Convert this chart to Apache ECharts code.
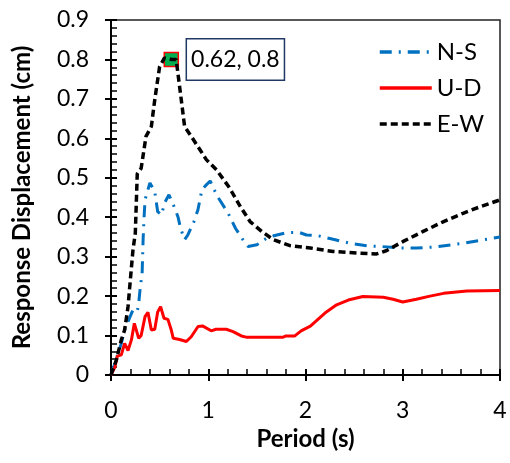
<!DOCTYPE html>
<html>
<head>
<meta charset="utf-8">
<script src="https://cdn.jsdelivr.net/npm/echarts@6/dist/echarts.min.js"></script>
<style>
  html, body { margin: 0; padding: 0; background: #fff; }
  #chart { width: 510px; height: 463px; }
</style>
</head>
<body>
<div id="chart"></div>
<script>
// values
const nsPeriod = [0, 0.04, 0.106, 0.14, 0.19, 0.226, 0.27, 0.285, 0.30, 0.32, 0.33, 0.34, 0.35, 0.40, 0.45, 0.48, 0.52, 0.55, 0.596, 0.655, 0.69, 0.715, 0.757, 0.79, 0.853, 0.894, 0.935, 0.98, 1.02, 1.06, 1.11, 1.205, 1.28, 1.38, 1.41, 1.50, 1.60, 1.675, 1.805, 1.94, 2.01, 2.13, 2.285, 2.46, 2.645, 2.765, 2.97, 3.14, 3.31, 3.62, 3.79, 4.0]
const nsDisp = [0, 0.03, 0.08, 0.114, 0.144, 0.165, 0.161, 0.182, 0.22, 0.258, 0.343, 0.40, 0.444, 0.487, 0.465, 0.414, 0.406, 0.436, 0.457, 0.423, 0.40, 0.372, 0.343, 0.355, 0.389, 0.419, 0.47, 0.482, 0.492, 0.47, 0.447, 0.41, 0.372, 0.334, 0.326, 0.33, 0.347, 0.353, 0.361, 0.361, 0.355, 0.353, 0.344, 0.334, 0.327, 0.326, 0.322, 0.322, 0.324, 0.334, 0.341, 0.35]

const udPeriod = [0, 0.04, 0.065, 0.106, 0.14, 0.175, 0.21, 0.24, 0.285, 0.31, 0.35, 0.38, 0.415, 0.45, 0.48, 0.51, 0.545, 0.585, 0.62, 0.64, 0.705, 0.775, 0.825, 0.895, 0.945, 1.03, 1.08, 1.185, 1.255, 1.34, 1.39, 1.77, 1.80, 1.89, 1.955, 2.05, 2.2, 2.32, 2.44, 2.59, 2.80, 2.90, 3.00, 3.14, 3.28, 3.42, 3.66, 4.0]
const udDisp = [0, 0.02, 0.048, 0.051, 0.08, 0.062, 0.089, 0.131, 0.093, 0.10, 0.148, 0.159, 0.114, 0.116, 0.16, 0.173, 0.144, 0.141, 0.114, 0.093, 0.09, 0.085, 0.097, 0.123, 0.124, 0.112, 0.116, 0.116, 0.11, 0.099, 0.096, 0.096, 0.099, 0.099, 0.112, 0.124, 0.157, 0.178, 0.19, 0.199, 0.197, 0.192, 0.185, 0.192, 0.20, 0.207, 0.213, 0.214]

const ewPeriod = [0, 0.055, 0.106, 0.14, 0.175, 0.19, 0.226, 0.25, 0.27, 0.31, 0.36, 0.415, 0.45, 0.50, 0.55, 0.62, 0.67, 0.705, 0.757, 0.825, 0.915, 0.98, 1.086, 1.22, 1.33, 1.43, 1.55, 1.67, 1.84, 2.05, 2.285, 2.56, 2.73, 2.83, 3.00, 3.21, 3.42, 3.62, 3.79, 4.0]
const ewDisp = [0, 0.038, 0.089, 0.114, 0.173, 0.216, 0.317, 0.36, 0.51, 0.524, 0.605, 0.63, 0.698, 0.782, 0.804, 0.80, 0.80, 0.732, 0.63, 0.605, 0.571, 0.546, 0.52, 0.474, 0.427, 0.389, 0.364, 0.343, 0.328, 0.322, 0.313, 0.309, 0.307, 0.315, 0.338, 0.364, 0.389, 0.41, 0.426, 0.444]

// peak marker
const peakPeriod = 0.62
const peakDisp = 0.8

const FONT = 'Lato'

function pairs(xs, ys) {
  return xs.map((x, i) => [x, ys[i]])
}

const chart = echarts.init(document.getElementById('chart'))

const baseX = {
  type: 'value', min: 0, max: 4, interval: 1,
  splitLine: { show: false }
}
const baseY = {
  type: 'value', min: 0, max: 0.9, interval: 0.1,
  splitLine: { show: false }
}

chart.setOption({
  animation: false,
  textStyle: { fontFamily: FONT },
  grid: {
    left: 111, right: 10, top: 20, bottom: 88,
    show: true, borderColor: '#222', borderWidth: 1.5
  },
  legend: {
    orient: 'vertical',
    left: 373, top: 35,
    itemWidth: 52, itemHeight: 20, itemGap: 12,
    itemStyle: { opacity: 0 },
    lineStyle: { width: 3.5 },
    textStyle: { fontSize: 24, color: '#000', fontFamily: FONT },
    data: ['N-S', 'U-D', 'E-W']
  },
  xAxis: [
    Object.assign({}, baseX, {
      position: 'bottom',
      name: 'Period (s)', nameLocation: 'middle', nameGap: 51,
      nameTextStyle: { fontSize: 24, fontWeight: 'bold', color: '#000', fontFamily: FONT },
      axisLine: { lineStyle: { color: '#000', width: 2 } },
      axisTick: { length: 6, lineStyle: { color: '#000', width: 2 } },
      axisLabel: { margin: 24, fontSize: 23, color: '#000', fontFamily: FONT }
    }),
    Object.assign({}, baseX, {
      position: 'bottom',
      axisLine: { show: false },
      axisTick: { inside: true, length: 6, lineStyle: { color: '#000', width: 2 } },
      minorTick: { show: true, splitNumber: 5, length: 6, lineStyle: { color: '#000', width: 1.5 } },
      axisLabel: { show: false }
    })
  ],
  yAxis: [
    Object.assign({}, baseY, {
      position: 'left',
      name: 'Response Displacement (cm)', nameLocation: 'middle', nameGap: 77,
      nameTextStyle: { fontSize: 24, fontWeight: 'bold', color: '#000', fontFamily: FONT },
      axisLine: { lineStyle: { color: '#000', width: 2 } },
      axisTick: { length: 6, lineStyle: { color: '#000', width: 2 } },
      axisLabel: { margin: 22, fontSize: 23, color: '#000', fontFamily: FONT,
        formatter: v => String(Math.round(v * 10) / 10) }
    }),
    Object.assign({}, baseY, {
      position: 'left',
      axisLine: { show: false },
      axisTick: { inside: true, length: 6, lineStyle: { color: '#000', width: 2 } },
      minorTick: { show: true, splitNumber: 5, length: 6, lineStyle: { color: '#000', width: 1.5 } },
      axisLabel: { show: false }
    })
  ],
  series: [
    {
      name: 'N-S', type: 'line', symbol: 'none',
      data: pairs(nsPeriod, nsDisp),
      lineStyle: { color: '#0070c0', width: 3, type: [12, 7, 2, 7] },
      itemStyle: { color: '#0070c0' },
      z: 3
    },
    {
      name: 'U-D', type: 'line', symbol: 'none',
      data: pairs(udPeriod, udDisp),
      lineStyle: { color: '#ff0000', width: 3 },
      itemStyle: { color: '#ff0000' },
      z: 4
    },
    {
      name: 'E-W', type: 'line', symbol: 'none',
      data: pairs(ewPeriod, ewDisp),
      lineStyle: { color: '#000', width: 3.5, type: [7, 4] },
      itemStyle: { color: '#000' },
      z: 5,
      markPoint: {
        symbol: 'rect', symbolSize: 14,
        itemStyle: { color: '#00b050', borderColor: '#ff0000', borderWidth: 1.5 },
        label: {
          show: true, position: 'right', distance: 8,
          formatter: peakPeriod + ', ' + peakDisp,
          fontSize: 23, color: '#000', fontFamily: FONT,
          backgroundColor: '#fff', borderColor: '#203864', borderWidth: 1.5,
          padding: [9, 4, 8, 4]
        },
        data: [{ coord: [peakPeriod, peakDisp] }]
      }
    }
  ]
})
</script>
</body>
</html>
